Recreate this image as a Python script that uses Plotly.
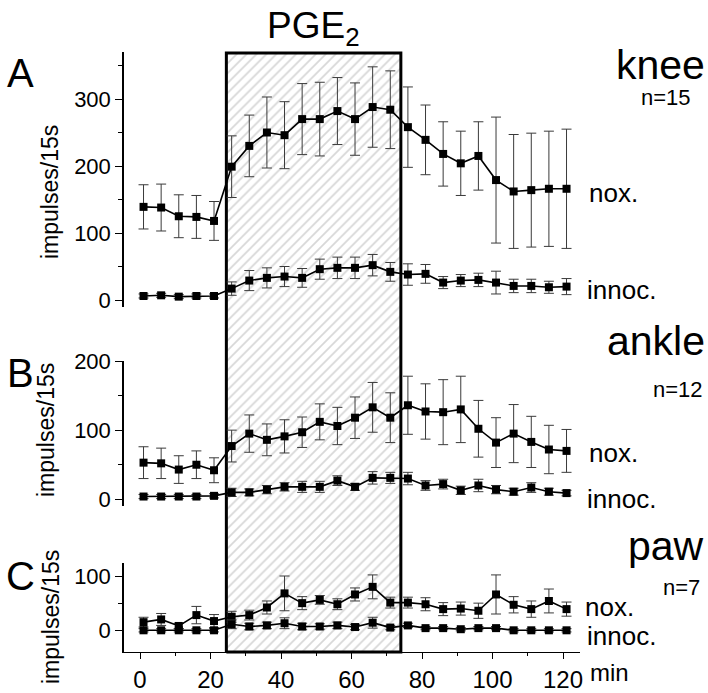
import plotly.graph_objects as go

W, H = 708, 693

# ---------------- data ----------------
time_min = [1, 6, 11, 16, 21, 26, 31, 36, 41, 46, 51, 56, 61, 66, 71, 76, 81, 86, 91, 96, 101, 106, 111, 116, 121]

knee_nox = [139, 138, 125, 124, 118, 199, 230, 250, 246, 270, 270, 282, 270, 288, 284, 258, 239, 218, 204, 215, 179, 162, 164, 166, 166]
knee_nox_sem = [33, 35, 32, 32, 29, 46, 46, 53, 50, 53, 55, 50, 54, 60, 58, 60, 52, 48, 48, 51, 94, 85, 85, 86, 89]
knee_innoc = [6, 7, 5, 6, 6, 17, 29, 33, 35, 33, 46, 48, 48, 52, 42, 38, 39, 26, 29, 30, 26, 21, 21, 19, 20]
knee_innoc_sem = [3, 3, 3, 3, 3, 10, 15, 15, 15, 14, 15, 16, 16, 16, 14, 16, 14, 9, 9, 10, 17, 10, 10, 9, 12]

ankle_nox = [53, 52, 43, 50, 42, 77, 95, 86, 91, 97, 112, 106, 118, 133, 118, 136, 127, 126, 130, 102, 82, 95, 83, 72, 70]
ankle_nox_sem = [23, 22, 20, 20, 18, 23, 27, 23, 24, 22, 26, 27, 30, 36, 36, 42, 40, 47, 48, 41, 36, 42, 37, 35, 31]
ankle_innoc = [4, 4, 4, 4, 5, 10, 10, 14, 18, 18, 18, 27, 18, 31, 31, 30, 20, 22, 13, 20, 14, 11, 17, 11, 9]
ankle_innoc_sem = [3, 3, 3, 3, 3, 6, 5, 6, 6, 8, 8, 7, 5, 9, 8, 9, 7, 7, 6, 9, 6, 5, 7, 5, 4]

paw_nox = [15, 20, 8, 28, 17, 25, 28, 42, 68, 50, 56, 48, 66, 80, 51, 51, 48, 39, 40, 36, 66, 47, 39, 54, 39]
paw_nox_sem = [9, 11, 5, 16, 12, 10, 9, 12, 32, 12, 8, 10, 12, 22, 10, 10, 12, 12, 12, 14, 36, 15, 15, 22, 13]
paw_innoc = [0, 0, 0, 0, 0, 11, 7, 9, 13, 7, 7, 9, 6, 14, 5, 9, 4, 4, 2, 4, 4, 0, 0, 0, 0]
paw_innoc_sem = [3, 3, 3, 3, 3, 8, 6, 6, 10, 6, 5, 6, 5, 10, 4, 4, 3, 3, 3, 3, 3, 3, 3, 3, 3]

pge_start, pge_end = 24.5, 74.0

x_ticks = [0, 20, 40, 60, 80, 100, 120]
x_minor = [10, 30, 50, 70, 90, 110]

# ---------------- helpers (layout geometry, window pixels -> paper) ----------------
def px_x(p):
    return p / W

def px_y(p):
    return 1 - p / H

FONT = "Liberation Sans, Arial, Helvetica, sans-serif"

# x mapping: 0 min at px 140, 120 min at px 563
X_PX0, X_SCALE = 140.0, (563.0 - 140.0) / 120.0
X_LEFT, X_RIGHT = 124.0, 580.0
x_range = [(X_LEFT - X_PX0) / X_SCALE, (X_RIGHT - X_PX0) / X_SCALE]
x_domain = [px_x(X_LEFT), px_x(X_RIGHT)]

def yrange(px_top, px_bot, px_zero, scale):
    return [(px_zero - px_bot) / scale, (px_zero - px_top) / scale]

panels = [
    (knee_nox, knee_nox_sem, knee_innoc, knee_innoc_sem, 52, 307, 300.0, 0.67, [0, 100, 200, 300]),
    (ankle_nox, ankle_nox_sem, ankle_innoc, ankle_innoc_sem, 361, 506, 499.3, 0.6915, [0, 100, 200]),
    (paw_nox, paw_nox_sem, paw_innoc, paw_innoc_sem, 563, 652, 630.3, 0.543, [0, 100]),
]

fig = go.Figure()

# ---- PGE2 box (subplot x/y, drawn first, below the data) ----
BOX_TOP, BOX_BOT = 53.0, 652.0
pad = 5.0
box_scale = BOX_BOT - BOX_TOP
fig.add_trace(go.Scatter(
    x=[pge_start, pge_end, pge_end, pge_start, pge_start],
    y=[0, 0, 1, 1, 0],
    mode="lines",
    fill="toself",
    fillcolor="white",
    fillpattern=dict(shape="/", fgcolor="#b0b0b0", bgcolor="white", size=7, solidity=0.25),
    line=dict(color="black", width=3),
    xaxis="x", yaxis="y",
    hoverinfo="skip", showlegend=False,
))

layout_axes = {}
layout_axes["xaxis"] = dict(domain=x_domain, range=x_range, visible=False, fixedrange=True,
                            automargin=False, anchor="y")
layout_axes["yaxis"] = dict(domain=[px_y(BOX_BOT + pad), px_y(BOX_TOP - pad)],
                            range=[-pad / box_scale, 1 + pad / box_scale],
                            visible=False, fixedrange=True, anchor="x", automargin=False)

for i, (nox, nox_sem, inn, inn_sem, ptop, pbot, pzero, sc, ticks) in enumerate(panels):
    k = i + 2
    xa, ya = f"x{k}", f"y{k}"
    for vals, sem in ((nox, nox_sem), (inn, inn_sem)):
        fig.add_trace(go.Scatter(
            x=time_min, y=vals,
            mode="lines+markers",
            line=dict(color="black", width=1.6),
            marker=dict(symbol="square", size=8, color="black"),
            error_y=dict(type="data", array=sem, visible=True, color="#3a3a3a", thickness=1, width=5),
            xaxis=xa, yaxis=ya, showlegend=False, cliponaxis=False,
        ))
    last = (i == len(panels) - 1)
    xcfg = dict(domain=x_domain, range=x_range, anchor=ya, automargin=False,
                showgrid=False, zeroline=False, fixedrange=True)
    if last:
        xcfg.update(
            showline=True, linecolor="black", linewidth=1.3,
            ticks="outside", ticklen=6, tickwidth=1.3, tickcolor="black",
            tickmode="array", tickvals=x_ticks, ticktext=[str(v) for v in x_ticks],
            minor=dict(tickvals=x_minor, ticks="outside", ticklen=3, tickcolor="black"),
            tickfont=dict(family=FONT, size=24, color="black"),
        )
    else:
        xcfg.update(visible=False)
    layout_axes[f"xaxis{k}"] = xcfg
    minor_vals = [t + 50 for t in ticks]
    layout_axes[f"yaxis{k}"] = dict(
        domain=[px_y(pbot), px_y(ptop)], range=yrange(ptop, pbot, pzero, sc), anchor=xa,
        automargin=False, fixedrange=True,
        showgrid=False, zeroline=False,
        showline=True, linecolor="black", linewidth=1.5,
        ticks="outside", ticklen=7, tickwidth=1.3, tickcolor="black",
        tickmode="array", tickvals=ticks, ticktext=[str(v) for v in ticks],
        minor=dict(tickvals=minor_vals, ticks="outside", ticklen=4, tickcolor="black"),
        tickfont=dict(family=FONT, size=22, color="black"),
    )

annotations = []

def ann(text, xp, yp, size, xanchor="center", angle=0):
    annotations.append(dict(
        text=text, x=px_x(xp), y=px_y(yp), xref="paper", yref="paper",
        xanchor=xanchor, yanchor="middle", showarrow=False, textangle=angle,
        font=dict(family=FONT, size=size, color="black"),
    ))

# Panel letters
ann("A", 20, 73, 40)
ann("B", 20, 373, 40)
ann("C", 20, 576, 40)

# y axis titles
ann("impulses/15s", 50, 192, 23, angle=-90)
ann("impulses/15s", 46, 430, 23, angle=-90)
ann("impulses/15s", 51, 617, 23, angle=-90)

# right side labels
ann("knee", 707, 65, 41, xanchor="right")
ann("n=15", 693, 97, 22, xanchor="right")
ann("nox.", 587, 193, 26, xanchor="left")
ann("innoc.", 585, 290, 26, xanchor="left")

ann("ankle", 707, 341, 41, xanchor="right")
ann("n=12", 705, 389, 22, xanchor="right")
ann("nox.", 587, 453, 26, xanchor="left")
ann("innoc.", 585, 499, 26, xanchor="left")

ann("paw", 706, 546, 41, xanchor="right")
ann("n=7", 702, 587, 22, xanchor="right")
ann("nox.", 583, 607, 26, xanchor="left")
ann("innoc.", 585, 636, 26, xanchor="left")

# x unit
ann("min", 588, 672, 24, xanchor="left")

# PGE2 title centred over the box
annotations.append(dict(
    text="PGE<sub>2</sub>", x=(pge_start + pge_end) / 2, y=px_y(28),
    xref="x", yref="paper", xanchor="center", yanchor="middle", showarrow=False,
    font=dict(family=FONT, size=37, color="black"),
))

fig.update_layout(
    width=W, height=H,
    margin=dict(l=0, r=0, t=0, b=0, autoexpand=False),
    paper_bgcolor="white", plot_bgcolor="rgba(0,0,0,0)",
    showlegend=False,
    annotations=annotations,
    **layout_axes,
)

# remove the default 8 px page margin so the 708x693 figure fills the window exactly
fig.write_html(
    "out.html",
    config={"displayModeBar": False},
    post_script="document.body.style.margin='0';"
                "document.body.style.overflow='hidden';"
                "document.documentElement.style.overflow='hidden';",
)
